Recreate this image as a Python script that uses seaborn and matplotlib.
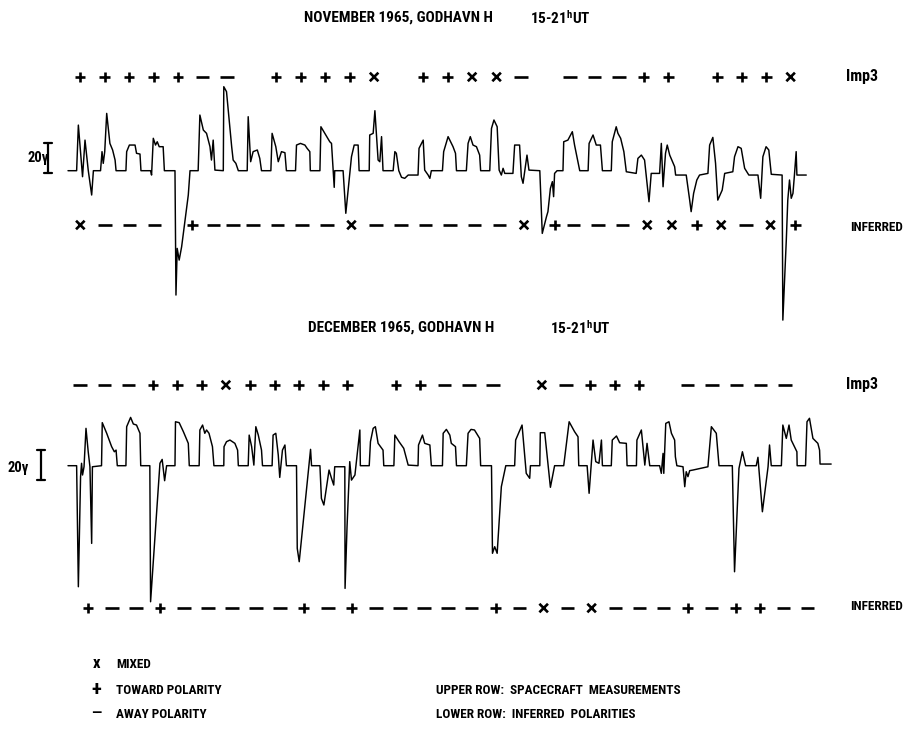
import numpy as np
import pandas as pd
import matplotlib
matplotlib.use("Agg")
import matplotlib.pyplot as plt
from matplotlib import font_manager
import seaborn as sns

# ---------------- data ----------------
# Godhavn H deviation (gamma) against day of month, 15-21h UT segments strung together
nov_day = np.array([
    0.00, 0.35, 0.42, 0.59, 0.69, 0.82, 0.96, 1.03, 1.32, 1.38, 1.43, 1.49, 1.57, 1.70, 1.81, 1.91, 1.95,
    2.35, 2.38, 2.49, 2.72, 2.78, 2.92, 2.96, 3.35, 3.39, 3.46, 3.55, 3.62, 3.70, 3.86, 3.91,
    4.34, 4.38, 4.43, 4.51, 4.61, 4.88, 4.95, 5.28, 5.35, 5.49, 5.62, 5.76, 5.82, 5.89, 5.96,
    6.30, 6.32, 6.43, 6.64, 6.70, 6.81, 6.91, 7.27, 7.31, 7.41, 7.51, 7.68, 7.78, 7.85,
    8.23, 8.28, 8.43, 8.53, 8.66, 8.80, 8.86, 9.23, 9.27, 9.43, 9.61, 9.70, 9.81, 9.83,
    10.22, 10.26, 10.42, 10.62, 10.69, 10.76, 10.80, 10.82, 11.16, 11.27, 11.50, 11.61, 11.77, 11.81,
    12.22, 12.24, 12.38, 12.45, 12.58, 12.65, 12.72, 12.78, 13.19, 13.26, 13.32, 13.42, 13.53, 13.66, 13.80,
    14.20, 14.24, 14.41, 14.47, 14.61, 14.68, 14.74, 15.19, 15.24, 15.42, 15.62, 15.72, 15.76,
    16.16, 16.23, 16.32, 16.43, 16.57, 16.70, 16.74, 17.11, 17.18, 17.28, 17.41, 17.49, 17.58, 17.65, 17.72,
    18.05, 18.12, 18.32, 18.39, 18.46, 18.62, 18.70, 19.14, 19.24, 19.41, 19.47, 19.57, 19.65, 19.70, 19.74, 19.84,
    20.08, 20.11, 20.28, 20.46, 20.55, 20.76, 21.10, 21.14, 21.30, 21.43, 21.60, 21.68,
    22.04, 22.08, 22.24, 22.31, 22.42, 22.55, 22.65, 23.05, 23.12, 23.26, 23.39, 23.57, 23.66,
    24.00, 24.07, 24.14, 24.24, 24.31, 24.41, 24.61, 24.65, 25.08, 25.22, 25.28, 25.38, 25.51, 25.62,
    25.96, 26.03, 26.16, 26.27, 26.36, 26.54, 26.64, 26.97, 27.04, 27.18, 27.31, 27.45, 27.62,
    27.99, 28.10, 28.19, 28.32, 28.43, 28.53, 28.97, 29.00, 29.14, 29.20, 29.27, 29.34, 29.41, 29.47,
    29.54, 29.57, 29.95,
])
nov_gamma = np.array([
    0, 0, 30.4, -4, 20.4, 0.4, -16.2, 0, 0, 12.7, 4.9, 12.7, 38.2, 18.2, 13.8, 7.1, 0,
    0, 12.7, 17.1, 17.1, 11.6, 11.1, 0, 0, -2.9, 21.6, 17.1, 19.3, 16, 16, 0,
    0, -82.9, -51.8, -59.6, -50.7, -16.2, 0, 0, 37.1, 27.1, 24.9, 16, 7.1, 20.4, 0.4,
    0, 56, 52.7, 16, 7.1, 4.9, 0, 0, 36, 6, 12.7, 13.8, 8.2, 0,
    0, 24.9, 16, 6, 12.7, 12, 0, 0, 17.1, 18.2, 17.1, 14.9, 12.7, 0,
    0, 29.3, 24.9, 19.3, 18.2, 0, -11.1, 0, 0, -28.4, 9.3, 17.1, 17.1, 0,
    0, 23.8, 24.9, 40, 7.1, 6, 22.7, 0, 0, 12.7, 11.6, 0, -4.4, -5.1, -2.9,
    -2.9, 14.9, 20.4, 0.4, -2.9, -5.1, 0, 0, 12.7, 22.7, 16, 11.6, 0,
    0, 18.2, 22.7, 17.1, 16, 10.4, 0, 0, 28.2, 33.8, 29.3, 0.4, -2.9, 1.6, -1.8,
    -1.8, 17.1, 17.1, -4, -8.4, 10.4, 0.4, 0, -41.8, -30.7, -27.3, -11.8, -7.3, -17.3, -1.8, 0,
    0, 19.3, 20.4, 26, 17.1, 0, 0, 18.2, 23.8, 17.1, 17.1, 0,
    0, 19.3, 29.3, 24.9, 21.6, 12.7, -0.7, -1.8, 8.2, 10.4, 7.1, -20.7, -1.8,
    -1.8, 18.2, -10.7, 11.6, 17.1, 10.4, 2.7, -2.9, -2.9, -19.6, -27.3, -15.1, -6.2, -2.9,
    -1.8, 17.1, 22.2, 4.9, -19.6, -12.9, -1.8, -0.7, 9.3, 16, 14.9, 1.6, -2.9,
    -2.9, -18.4, 9.3, 16, 13.8, -2.4, -2.9, -99.6, -46.2, -19.6, -6.2, -18.4, -15.1, -2.9,
    12.7, -2.9, -2.9,
])

dec_day = np.array([
    0.00, 0.35, 0.42, 0.51, 0.55, 0.59, 0.65, 0.73, 0.82, 0.89, 0.96, 0.99, 1.36, 1.39, 1.57, 1.77, 1.88, 1.95, 2.00,
    2.35, 2.38, 2.54, 2.65, 2.78, 2.92, 2.95, 3.32, 3.35, 3.73, 3.82, 3.92, 4.00,
    4.34, 4.36, 4.51, 4.68, 4.88, 4.92, 5.32, 5.35, 5.46, 5.55, 5.62, 5.72, 5.86, 5.92,
    6.32, 6.33, 6.43, 6.57, 6.77, 6.88, 6.91, 7.31, 7.35, 7.45, 7.54, 7.62, 7.72, 7.85, 7.89,
    8.28, 8.32, 8.43, 8.53, 8.59, 8.70, 8.80, 8.86, 9.27, 9.30, 9.38, 9.84, 9.88,
    10.22, 10.28, 10.38, 10.59, 10.69, 10.78, 10.82, 11.23, 11.24, 11.32, 11.43, 11.50, 11.64, 11.84, 11.86,
    12.22, 12.27, 12.38, 12.47, 12.58, 12.78, 12.81, 13.22, 13.26, 13.43, 13.62, 13.80,
    14.20, 14.22, 14.38, 14.47, 14.68, 14.74, 15.19, 15.22, 15.35, 15.49, 15.55, 15.72, 15.76,
    16.16, 16.23, 16.35, 16.49, 16.70, 16.74, 17.18, 17.22, 17.31, 17.41, 17.58, 17.76,
    18.12, 18.16, 18.42, 18.59, 18.73, 18.76, 19.14, 19.16, 19.34, 19.57, 19.74,
    20.11, 20.33, 20.55, 20.69, 20.72, 21.06, 21.14, 21.30, 21.41, 21.54, 21.64, 21.68,
    22.04, 22.08, 22.25, 22.38, 22.65, 22.68, 23.06, 23.08, 23.26, 23.40, 23.49, 23.60,
    24.00, 24.07, 24.14, 24.17, 24.25, 24.38, 24.48, 24.61, 24.64, 24.70, 24.95, 25.02, 25.08, 25.15, 25.22, 25.35,
    25.96, 26.10, 26.30, 26.41, 26.95, 27.04, 27.22, 27.36, 27.49, 27.92, 27.99, 28.17, 28.40, 28.46, 28.53,
    28.94, 29.00, 29.14, 29.25, 29.34, 29.57, 29.58, 29.92, 29.98, 30.08, 30.22, 30.42, 30.49, 30.51, 30.96,
])
dec_gamma = np.array([
    0, 0, -80.7, -7.3, 1.6, -6.2, -0.7, 24.9, 9.3, -0.7, -51.8, -0.7, 0, 28.7, 21.6, 12.7, 9.3, 10.4, 0,
    0, 26, 32.2, 27.8, 27.1, 21.6, 0, 0, -90.7, 1.6, 4.2, -10, 0,
    0, 29.3, 28.7, 22.7, 14.9, 0, 0, 23.8, 27.1, 21.6, 23.8, 21.6, 12.7, 0,
    0, 12.7, 16, 17.1, 14.9, 10.4, 0, 0, 20.4, 12.7, 0.4, 26, 20.4, 10.4, 0,
    0, 20.4, 21.6, 7.1, -7.8, 10.4, 13.8, 0, 0, -55.1, -64, 10.9, 0,
    0, -21.8, -26.2, -2.9, -8.4, -12.9, -0.7, -0.7, -81.8, -40.7, 2.7, -9.6, -6.2, 23.8, 0,
    0, 16, 24.9, 26, 14.9, 10.4, 0, 0, 20.4, 16, 11.6, 0.4,
    0, 13.8, 20.4, 14.9, 13.8, 0, 0, 21.6, 24.2, 20.4, 14.9, 12.7, 0,
    0, 21.6, 24.2, 23.8, 18.2, 0, 0, -58.4, -54, -58.4, -14, 0,
    0, 17.1, 27.1, -5.1, -8.4, 0, 0, 22, 22, -14.4, 0,
    0, 29.3, 22.7, 19.3, 0, 0, -18.4, 17.1, 2.7, 1.6, 17.1, 0,
    0, 17.1, 19.8, 15.3, 14.9, 0, 0, 17.1, 23.8, 0.4, 14.9, 0,
    0, -5.1, 8.2, -5.1, 28.2, 29.3, 21.6, 17.1, 6, 0, -0.7, -14, -4, -7.3, -3.3, -2.9,
    -0.7, 26, 21.6, 0, 0, -70.7, -1.8, 9.3, 0, 0, 5.6, -30.7, -0.7, 13.8, 0,
    0, 27.1, 18.2, 27.1, 17.1, 9.3, 0, 0, 29.3, 31.6, 18.2, 14.9, 10.4, 1.1, 1.1,
])

# daily polarity codes: '+' toward, '-' away, 'x' mixed, ' ' no data
nov_upper = list("+++++-- ++++x ++xx- ---++ +++x")
nov_inferred = list("x---+------x------x+---xx+x-x+")
dec_upper = list("---+++x+++++ ++--- x-+++ ----- ")
dec_inferred = list("+--+-----+-+-----+-x-x---+-++--")

# ---------------- styling ----------------
W, H = 915, 737
PX_PER_DAY = 24.65
PX_PER_GAMMA = 1.5
X0 = 68  # pixel column of day 0

sns.set_theme(style="white")
plt.rcParams["mathtext.default"] = "regular"


def pick_font():
    for fam in ["Liberation Sans Narrow", "DejaVu Sans Condensed", "Roboto Condensed", "Liberation Sans"]:
        try:
            font_manager.findfont(fam, fallback_to_default=False)
            return fam
        except Exception:
            continue
    return "DejaVu Sans"


FONT = pick_font()
plt.rcParams["font.family"] = [FONT, "DejaVu Sans"]

fig = plt.figure(figsize=(W / 100, H / 100), dpi=100)
fig.patch.set_facecolor("white")


def make_axes(top_px, bot_px, base_px):
    ax = fig.add_axes([0, 1 - bot_px / H, 1, (bot_px - top_px) / H])
    ax.set_xlim(-X0 / PX_PER_DAY, (W - X0) / PX_PER_DAY)
    ax.set_ylim((base_px - bot_px) / PX_PER_GAMMA, (base_px - top_px) / PX_PER_GAMMA)
    ax.set_axis_off()
    return ax


ax_nov = make_axes(0, 330, 170.7)
ax_dec = make_axes(330, H, 465.7)

marker_map = {"+": "+", "-": "_", "x": "x"}
size_map = {"+": 60, "-": 95, "x": 38}


def polarity_row(ax, codes, start, step, y, nudge=None):
    nudge = nudge or {}
    rows = [(start + i * step + nudge.get(i, 0.0), y, c) for i, c in enumerate(codes) if c != " "]
    df = pd.DataFrame(rows, columns=["day", "level", "code"])
    sns.scatterplot(data=df, x="day", y="level", style="code", size="code",
                    markers=marker_map, sizes=size_map, color="black",
                    linewidth=1.9, legend=False, ax=ax)


def trace(ax, day, gamma):
    sns.lineplot(x=day, y=gamma, sort=False, estimator=None, color="black",
                 linewidth=1.05, ax=ax)


trace(ax_nov, nov_day, nov_gamma)
trace(ax_dec, dec_day, dec_gamma)

polarity_row(ax_nov, nov_upper, 0.49, 0.994, 62.5)
polarity_row(ax_nov, nov_inferred, 0.5, 1.0, -36.2, nudge={4: 0.55, 5: 0.4, 6: 0.2, 19: 0.25})
polarity_row(ax_dec, dec_upper, 0.49, 0.986, 53.8)
polarity_row(ax_dec, dec_inferred, 0.81, 0.973, -94.9)

# 20 gamma scale bars
for ax, xb, yc in [(ax_nov, -0.82, 8.5), (ax_dec, -1.09, 0.5)]:
    ax.plot([xb, xb], [yc - 10, yc + 10], color="black", lw=1.6)
    for yy in (yc - 10, yc + 10):
        ax.plot([xb - 0.17, xb + 0.17], [yy, yy], color="black", lw=1.6)


def put(px, py, s, size=10, ha="left", weight="bold", **kw):
    fig.text(px / W, 1 - py / H, s, ha=ha, va="center", fontsize=size,
             fontweight=weight, color="black", **kw)


put(28, 158, "20γ", size=10.5)
put(8, 468, "20γ", size=10.5)

put(304, 18, "NOVEMBER 1965, GODHAVN H", size=11)
put(530, 18, "15-21$^{h}$UT", size=11)
put(308, 328, "DECEMBER 1965, GODHAVN H", size=11)
put(550, 328, "15-21$^{h}$UT", size=11)

put(846, 77, "Imp3", size=11.5)
put(846, 385, "Imp3", size=11.5)
put(850, 228, "INFERRED", size=9.5)
put(850, 607, "INFERRED", size=9.5)

put(96, 664, "x", size=12, ha="center")
put(96, 689, "+", size=15, ha="center")
put(96, 713, "—", size=11, ha="center")
put(116, 665, "MIXED", size=9.5)
put(116, 690, "TOWARD POLARITY", size=9.5)
put(116, 714, "AWAY POLARITY", size=9.5)
put(436, 690, "UPPER ROW:  SPACECRAFT  MEASUREMENTS", size=9.5)
put(436, 714, "LOWER ROW:  INFERRED  POLARITIES", size=9.5)

fig.savefig("out.png", dpi=100, facecolor="white")
